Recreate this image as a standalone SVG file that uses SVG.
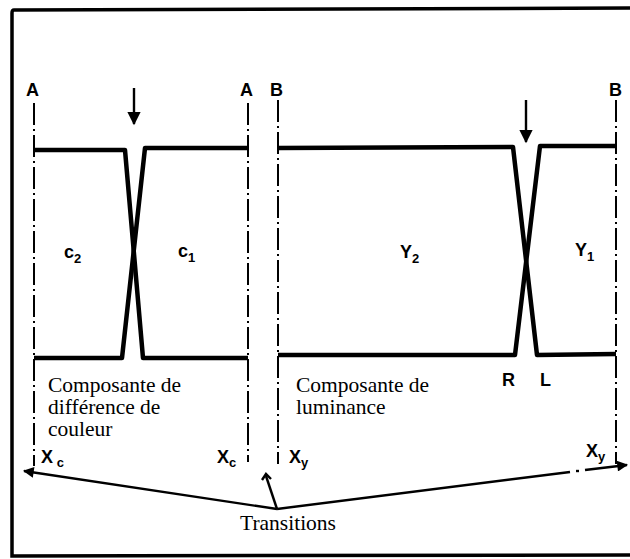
<svg xmlns="http://www.w3.org/2000/svg" width="630" height="559" viewBox="0 0 630 559">
<defs>
<style>
.frame{fill:none;stroke:#000;stroke-width:3.5}
.guide{stroke:#000;stroke-width:2;stroke-dasharray:22 4 2 4;fill:none}
.wave{fill:none;stroke:#000;stroke-width:4.5;stroke-linejoin:round}
.thin{fill:none;stroke:#000;stroke-width:2.4}
.lbl{font-family:"Liberation Sans",Arial,sans-serif;font-weight:bold;font-size:18px;fill:#000}
.sub{font-size:13px}
.txt{font-family:"Liberation Serif","Times New Roman",serif;font-size:21.5px;fill:#000}
</style>
<marker id="ah" viewBox="0 0 10 10" refX="9" refY="5" markerWidth="6" markerHeight="5.5" orient="auto" markerUnits="strokeWidth">
<path d="M0,0 L10,5 L0,10 z" fill="#000"/>
</marker>
<marker id="ahs" viewBox="0 0 10 10" refX="9" refY="5" markerWidth="5" markerHeight="4.5" orient="auto" markerUnits="strokeWidth">
<path d="M0,0 L10,5 L0,10 z" fill="#000"/>
</marker>
</defs>
<g id="frame">
<path class="frame" d="M630,8 L14,10 Q12,10 12,13 L12,556 L630,555"/>
</g>
<g id="guides">
<line class="guide" x1="34" y1="103" x2="34" y2="466"/>
<line class="guide" x1="248" y1="103" x2="248" y2="462"/>
<line class="guide" x1="278" y1="100" x2="278" y2="464"/>
<line class="guide" x1="616" y1="100" x2="616" y2="464"/>
</g>
<g id="chroma-waveform">
<polyline class="wave" points="34,150 125,150 143,358 248,358"/>
<polyline class="wave" points="34,358 122,358 145,148 248,148"/>
<line class="thin" x1="134" y1="88" x2="134" y2="124" marker-end="url(#ah)"/>
</g>
<g id="luma-waveform">
<polyline class="wave" points="278,148 513,147 537,355 616,354"/>
<polyline class="wave" points="278,355 515,355 540,146 616,146"/>
<line class="thin" x1="526" y1="100" x2="526" y2="142" marker-end="url(#ah)"/>
</g>
<g id="labels">
<text class="lbl" x="26" y="96">A</text>
<text class="lbl" x="240" y="96">A</text>
<text class="lbl" x="270" y="96">B</text>
<text class="lbl" x="609" y="96">B</text>
<text class="lbl" x="64" y="258">c<tspan class="sub" dy="5">2</tspan></text>
<text class="lbl" x="178" y="257">c<tspan class="sub" dy="5">1</tspan></text>
<text class="lbl" x="400" y="258">Y<tspan class="sub" dy="5">2</tspan></text>
<text class="lbl" x="575" y="256">Y<tspan class="sub" dy="5">1</tspan></text>
<text class="lbl" x="502" y="386">R</text>
<text class="lbl" x="540" y="386">L</text>
<text class="lbl" x="41" y="463">X<tspan class="sub" dy="4"> c</tspan></text>
<text class="lbl" x="217" y="463">X<tspan class="sub" dy="4">c</tspan></text>
<text class="lbl" x="289" y="463">X<tspan class="sub" dy="4">y</tspan></text>
<text class="lbl" x="586" y="457">X<tspan class="sub" dy="4">y</tspan></text>
<text class="txt" x="48" y="392">Composante de</text>
<text class="txt" x="48" y="414">différence de</text>
<text class="txt" x="48" y="436">couleur</text>
<text class="txt" x="296" y="392">Composante de</text>
<text class="txt" x="296" y="414">luminance</text>
<text class="txt" x="240" y="530">Transitions</text>
</g>
<g id="connectors">
<line class="thin" x1="277" y1="509" x2="24" y2="471" marker-end="url(#ahs)"/>
<line class="thin" x1="277" y1="509" x2="570" y2="472"/>
<line class="thin" x1="576" y1="471" x2="579" y2="471"/>
<line class="thin" x1="585" y1="470" x2="627" y2="465" marker-end="url(#ahs)"/>
<line class="thin" x1="277" y1="509" x2="266" y2="476"/>
<path d="M262,480 L266,474 L271,479" fill="none" stroke="#000" stroke-width="2.4"/>
</g>
</svg>
